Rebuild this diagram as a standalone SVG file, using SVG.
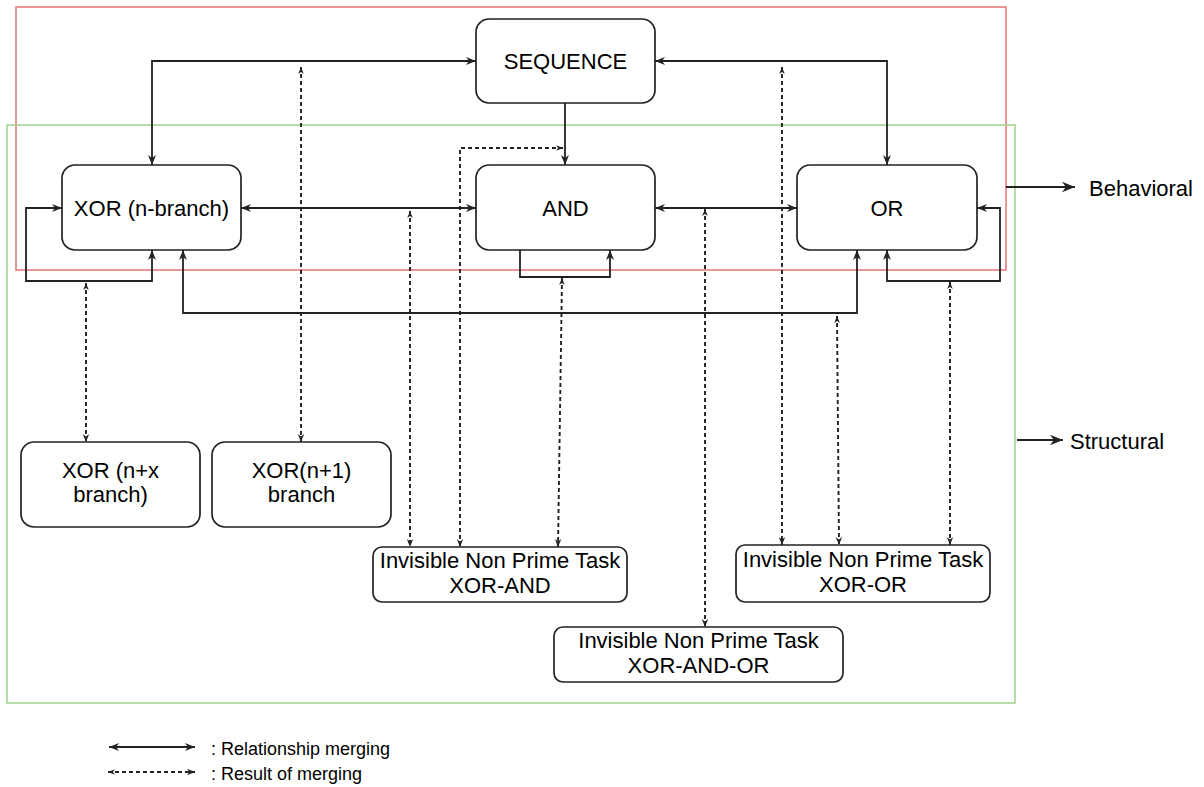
<svg xmlns="http://www.w3.org/2000/svg" width="1204" height="787" viewBox="0 0 1204 787">
<style>
.box{fill:#fff;stroke:#222;stroke-width:1.7}
.t{font-family:"Liberation Sans",Arial,Helvetica,sans-serif;font-size:22px;fill:#000;text-anchor:middle}
.tl{font-family:"Liberation Sans",Arial,Helvetica,sans-serif;font-size:22px;fill:#000}
.lg{font-family:"Liberation Sans",Arial,Helvetica,sans-serif;font-size:18px;fill:#000}
.s{fill:none;stroke:#222;stroke-width:1.8;marker-end:url(#a)}
.s2{fill:none;stroke:#222;stroke-width:1.8;marker-start:url(#a);marker-end:url(#a)}
.b{fill:none;stroke:#222;stroke-width:1.8;marker-end:url(#big)}
.d{fill:none;stroke:#222;stroke-width:1.9;stroke-dasharray:4,3;marker-start:url(#sm);marker-end:url(#da)}
</style>
<defs>
<marker id="a" viewBox="0 0 10 10" refX="10" refY="5" markerWidth="10" markerHeight="10" markerUnits="userSpaceOnUse" orient="auto-start-reverse"><path d="M0,1 L10,5 L0,9 L3,5z" fill="#222"/></marker>
<marker id="big" viewBox="0 0 10 10" refX="10" refY="5" markerWidth="13" markerHeight="13" markerUnits="userSpaceOnUse" orient="auto"><path d="M0,1 L10,5 L0,9 L3,5z" fill="#222"/></marker>
<marker id="da" viewBox="0 0 10 10" refX="10" refY="5" markerWidth="8" markerHeight="8" markerUnits="userSpaceOnUse" orient="auto-start-reverse"><path d="M0,1 L10,5 L0,9 L3,5z" fill="#222"/></marker>
<marker id="sm" viewBox="0 0 10 10" refX="10" refY="5" markerWidth="7" markerHeight="7" markerUnits="userSpaceOnUse" orient="auto-start-reverse"><path d="M0,1 L10,5 L0,9 L3,5z" fill="#222"/></marker>
</defs>
<rect width="1204" height="787" fill="#fff"/>
<g id="regions">
<rect x="16" y="7" width="990" height="263" fill="none" stroke="#e57373" stroke-width="1.5"/>
<rect x="7" y="125" width="1008" height="578" fill="none" stroke="#9fd18c" stroke-width="1.5"/>
</g>
<g id="connectors">
<path class="s2" d="M476,61 H152 V165"/>
<path class="s2" d="M655,61 H887 V165"/>
<path class="s" d="M565,103 V165"/>
<path class="s2" d="M241,208 H476"/>
<path class="s2" d="M655,208 H797"/>
<path class="s" d="M520,250 V277 H610 V250"/>
<path class="s2" d="M62,208 H26 V281 H152 V250"/>
<path class="s2" d="M183,250 V313 H857 V250"/>
<path class="s2" d="M887,250 V281 H1000 V208 H977"/>
<path class="d" d="M301,67 V442"/>
<path class="d" d="M782,67 V545"/>
<path class="d" d="M410,211 V547"/>
<path class="d" d="M563,148 H460 V547"/>
<path class="d" d="M705,209 V627"/>
<path class="d" d="M562,278 L558,547"/>
<path class="d" d="M86,283 V442"/>
<path class="d" d="M837,316 L839,545"/>
<path class="d" d="M950,282 V545"/>
<path class="b" d="M1006,187 H1075"/>
<path class="b" d="M1017,440 H1063"/>
</g>
<g id="SEQUENCE"><rect class="box" x="476" y="19" width="179" height="84" rx="13"/><text class="t" x="565.5" y="69">SEQUENCE</text></g>
<g id="XOR"><rect class="box" x="62" y="165" width="179" height="85" rx="13"/><text class="t" x="151.5" y="216">XOR (n-branch)</text></g>
<g id="AND"><rect class="box" x="476" y="165" width="179" height="85" rx="13"/><text class="t" x="565.5" y="216">AND</text></g>
<g id="OR"><rect class="box" x="797" y="165" width="180" height="85" rx="13"/><text class="t" x="887" y="216">OR</text></g>
<g id="XORnx"><rect class="box" x="21" y="442" width="179" height="85" rx="13"/><text class="t" x="110.5" y="478">XOR (n+x</text><text class="t" x="110.5" y="502">branch)</text></g>
<g id="XORn1"><rect class="box" x="212" y="442" width="179" height="85" rx="13"/><text class="t" x="301.5" y="478">XOR(n+1)</text><text class="t" x="301.5" y="502">branch</text></g>
<g id="XOR-AND"><rect class="box" x="373" y="547" width="254" height="55" rx="9"/><text class="t" x="500" y="568">Invisible Non Prime Task</text><text class="t" x="500" y="593">XOR-AND</text></g>
<g id="XOR-OR"><rect class="box" x="736" y="545" width="254" height="57" rx="9"/><text class="t" x="863" y="567">Invisible Non Prime Task</text><text class="t" x="863" y="592">XOR-OR</text></g>
<g id="XOR-AND-OR"><rect class="box" x="554" y="627" width="289" height="55" rx="9"/><text class="t" x="698.5" y="648">Invisible Non Prime Task</text><text class="t" x="698.5" y="673">XOR-AND-OR</text></g>
<g id="labels">
<text class="tl" x="1089" y="196">Behavioral</text>
<text class="tl" x="1070" y="449">Structural</text>
</g>
<g id="legend">
<path class="s2" d="M109,747 H195"/>
<path class="d" d="M108,772 H195"/>
<text class="lg" x="211" y="755">: Relationship merging</text>
<text class="lg" x="211" y="780">: Result of merging</text>
</g>
</svg>
